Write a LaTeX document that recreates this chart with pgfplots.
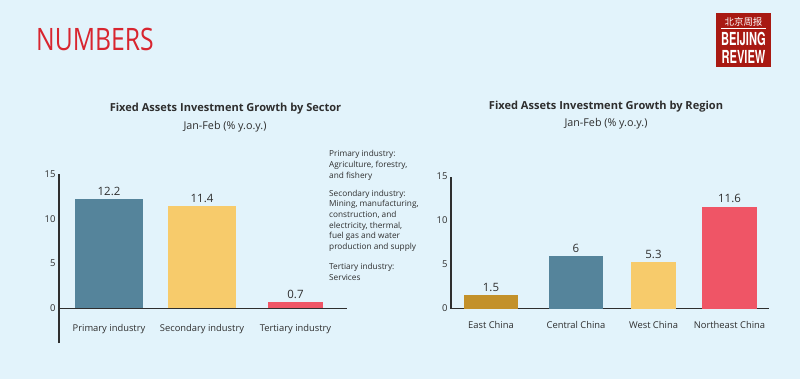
\documentclass[border=0pt]{standalone}
\usepackage{pgfplots}
\pgfplotsset{compat=1.18}
\usepackage{fontspec}
\setmainfont{Open Sans}
\newfontfamily\cjk{Noto Sans CJK SC}
\newfontfamily\heros{TeX Gyre Heros}
\definecolor{bg}{HTML}{E2F3FB}
\definecolor{bblue}{HTML}{55849B}
\definecolor{byellow}{HTML}{F7CB6B}
\definecolor{bred}{HTML}{EF5566}
\definecolor{bgold}{HTML}{C3912A}
\definecolor{txt}{HTML}{2E2E2E}
\definecolor{numred}{HTML}{D8252F}
\definecolor{logored}{HTML}{A81912}
\pgfplotsset{
  /pgf/number format/assume math mode=true,
  mybars/.style={
    scale only axis, anchor=south west,
    axis y line=left, axis x line=middle,
    axis line style={-, draw=txt, line width=1.1pt},
    hide obscured x ticks=false, hide obscured y ticks=false,
    ytick={0,5,10,15}, major tick length=0pt,
    tick label style={font=\fontsize{9.5}{11}\selectfont, text=txt},
    xticklabel style={font=\fontsize{9.4}{11}\selectfont},
    ybar, nodes near coords,
    every node near coord/.append style={font=\fontsize{11.5}{13}\selectfont, text=txt},
    clip=false,
  }
}
\begin{document}
\begin{tikzpicture}[x=1bp,y=1bp]
\fill[bg] (0,0) rectangle (800,379);
% header
\node[anchor=base west, inner sep=0, text=numred, font=\fontsize{31}{31}\selectfont] at (36,329) {\scalebox{0.8}[1]{NUMBERS}};
% logo
\fill[logored] (716,312) rectangle (771,366);
\node[text=white, inner sep=0, font=\cjk\fontsize{9.5}{10}\selectfont] at (743.5,357.5) {北京周报};
\draw[white, line width=0.6pt] (721,351) -- (766,351);
\node[anchor=base, text=white, inner sep=0, font=\heros\bfseries\fontsize{18}{18}\selectfont] at (743.5,334) {\scalebox{0.62}[1]{BEIJING}};
\node[anchor=base, text=white, inner sep=0, font=\heros\bfseries\fontsize{18}{18}\selectfont] at (743.5,316) {\scalebox{0.62}[1]{REVIEW}};
% titles
\node[text=txt, font=\bfseries\fontsize{11.1}{13}\selectfont] at (225.5,270) {Fixed Assets Investment Growth by Sector};
\node[text=txt, font=\fontsize{10.8}{12}\selectfont] at (225,252) {Jan-Feb (\% y.o.y.)};
\node[text=txt, font=\bfseries\fontsize{11.1}{13}\selectfont] at (606,272) {Fixed Assets Investment Growth by Region};
\node[text=txt, font=\fontsize{10.8}{12}\selectfont] at (606,255) {Jan-Feb (\% y.o.y.)};
% notes
\node[anchor=north west, inner sep=0, align=left, text=txt, font=\fontsize{8.3}{10.6}\selectfont] at (329,228.5)
{Primary industry:\\Agriculture, forestry,\\and fishery\\[7.7pt]
Secondary industry:\\Mining, manufacturing,\\construction, and\\electricity, thermal,\\fuel gas and water\\production and supply\\[10pt]
Tertiary industry:\\Services};

\begin{axis}[mybars,
  at={(59,40)}, width=288bp, height=169bp,
  xmin=59, xmax=347, ymin=-3.9, ymax=15,
  xtick={109,202,295.5},
  xticklabels={Primary industry, Secondary industry, Tertiary industry},
  xticklabel style={yshift=-13bp},
]
\addplot[fill=bblue, draw=none, bar width=68, bar shift=0pt] coordinates {(109,12.2)};
\addplot[fill=byellow, draw=none, bar width=68, bar shift=0pt] coordinates {(202,11.4)};
\addplot[fill=bred, draw=none, bar width=55, bar shift=0pt] coordinates {(295.5,0.7)};
\end{axis}

\begin{axis}[mybars,
  at={(451,80)}, width=318bp, height=132bp,
  xmin=451, xmax=769, ymin=0, ymax=15,
  xtick={491,576,653.5,729.5},
  xticklabels={East China, Central China, West China, Northeast China},
  xticklabel style={yshift=-9bp},
]
\addplot[fill=bgold, draw=none, bar width=54, bar shift=0pt] coordinates {(491,1.5)};
\addplot[fill=bblue, draw=none, bar width=54, bar shift=0pt] coordinates {(576,6)};
\addplot[fill=byellow, draw=none, bar width=45, bar shift=0pt] coordinates {(653.5,5.3)};
\addplot[fill=bred, draw=none, bar width=55, bar shift=0pt] coordinates {(729.5,11.6)};
\end{axis}
\end{tikzpicture}
\end{document}
